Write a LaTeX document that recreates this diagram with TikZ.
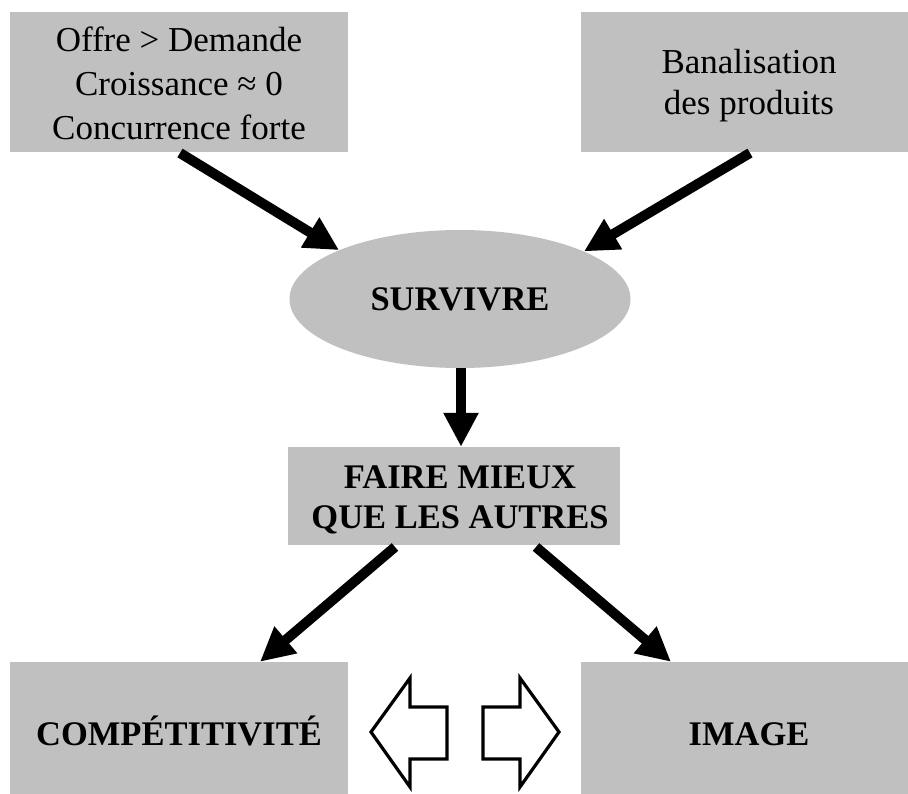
\documentclass[tikz,border=0pt]{standalone}
\usepackage{fontspec}
\setmainfont{Liberation Serif}
\usetikzlibrary{arrows.meta,shapes.geometric}
\definecolor{boxgray}{RGB}{192,192,192}
\begin{document}
\begin{tikzpicture}[x=1pt,y=-1pt,
  box/.style={fill=boxgray, draw=none, inner sep=0pt, align=center},
  reg/.style={font=\fontsize{35}{43.8}\selectfont},
  regb/.style={font=\fontsize{35}{41}\selectfont},
  bld/.style={font=\fontsize{34.5}{40}\selectfont\bfseries},
  fat/.style={line width=10pt, -{Triangle[length=34pt,width=33pt]}},
  hollow/.style={draw=black, fill=white, line width=3.2pt, line join=miter}]
\useasboundingbox (0,0) rectangle (908,794);
\fill[white] (0,0) rectangle (908,794);

\node[box,reg,minimum width=338pt,minimum height=140pt] (b1) at (179,82)
  {\rule{0pt}{27pt}Offre > Demande\\Croissance ≈ 0\\Concurrence forte};
\node[box,regb,minimum width=336pt,minimum height=140pt] (b2) at (749,82)
  {\rule{0pt}{32pt}Banalisation\\des produits};
\node[ellipse,fill=boxgray,inner sep=0pt,minimum width=341pt,minimum height=138pt,bld] (surv) at (460,299) {SURVIVRE};
\node[box,bld,minimum width=332pt,minimum height=98pt] (faire) at (454,496)
  {\hspace*{12pt}\rule{0pt}{31pt}FAIRE MIEUX\\\hspace*{12pt}QUE LES AUTRES};
\node[box,bld,minimum width=338pt,minimum height=132pt,text height=34pt,text depth=0pt] (comp) at (179,728) {COMPÉTITIVITÉ};
\node[box,bld,minimum width=336pt,minimum height=132pt,text height=34pt,text depth=0pt] (img) at (749,728) {IMAGE};

\coordinate (s1) at (180,153);
\coordinate (s2) at (750,153);
\coordinate (s4) at (395,547);
\coordinate (s5) at (536,547);

\draw[fat] (s1) -- (surv.158.6);
\draw[fat] (s2) -- (surv.21.5);
\draw[fat] ([xshift=1pt]surv.south) -- ([xshift=1pt]surv.south |- faire.north);
\draw[fat] (s4) -- ([xshift=81pt]comp.north);
\draw[fat] (s5) -- ([xshift=-78pt]img.north);

\draw[hollow] (371,732) -- (410,678) -- (410,707) -- (447,707) -- (447,759) -- (410,759) -- (410,787) -- cycle;
\draw[hollow] (559,732) -- (520,678) -- (520,707) -- (483,707) -- (483,759) -- (520,759) -- (520,787) -- cycle;
\end{tikzpicture}
\end{document}
